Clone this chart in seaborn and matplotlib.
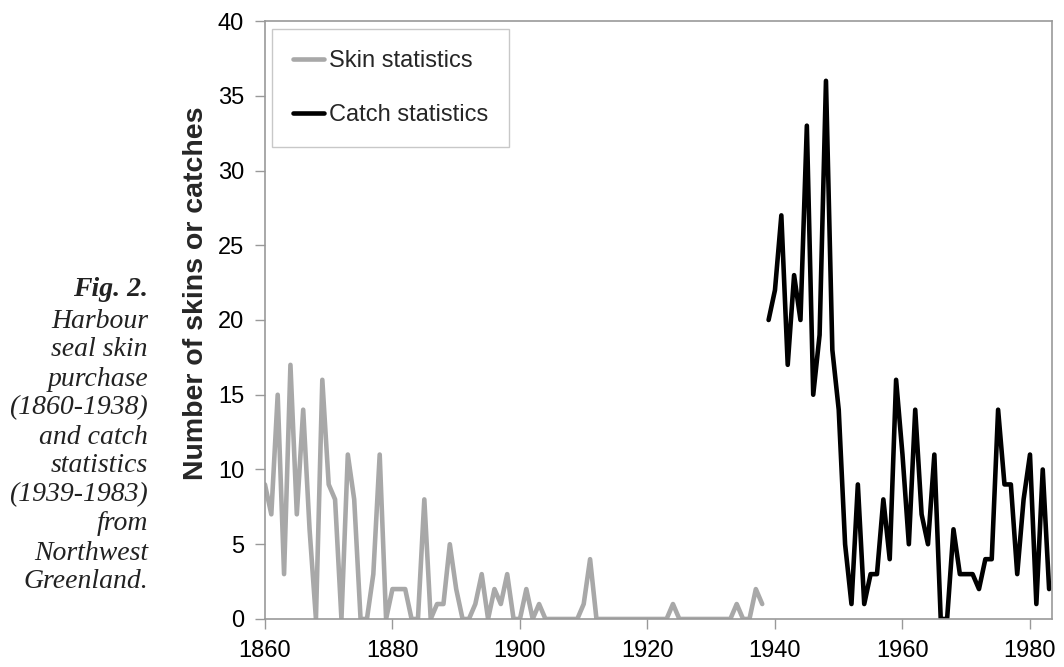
import pandas as pd
import matplotlib
matplotlib.use("Agg")
import matplotlib.pyplot as plt
import seaborn as sns

# harbour seal skins bought (1860-1938) and catches (1939-1983)
skin_years = list(range(1860, 1939))
skin_counts = [9, 7, 15, 3, 17, 7, 14, 6, 0, 16,
               9, 8, 0, 11, 8, 0, 0, 3, 11, 0,
               2, 2, 2, 0, 0, 8, 0, 1, 1, 5,
               2, 0, 0, 1, 3, 0, 2, 1, 3, 0,
               0, 2, 0, 1, 0, 0, 0, 0, 0, 0,
               1, 4, 0, 0, 0, 0, 0, 0, 0, 0,
               0, 0, 0, 0, 1, 0, 0, 0, 0, 0,
               0, 0, 0, 0, 1, 0, 0, 2, 1]
catch_years = list(range(1939, 1984))
catch_counts = [20, 22, 27, 17, 23, 20, 33, 15, 19, 36,
                18, 14, 5, 1, 9, 1, 3, 3, 8, 4,
                16, 11, 5, 14, 7, 5, 11, 0, 0, 6,
                3, 3, 3, 2, 4, 4, 14, 9, 9, 3,
                8, 11, 1, 10, 2]
series_names = ["Skin statistics", "Catch statistics"]
caption = ["Harbour", "seal skin", "purchase", "(1860-1938)", "and catch",
           "statistics", "(1939-1983)", "from", "Northwest", "Greenland."]

df = pd.concat([
    pd.DataFrame({"year": skin_years, "count": skin_counts, "series": series_names[0]}),
    pd.DataFrame({"year": catch_years, "count": catch_counts, "series": series_names[1]}),
])

sns.set_theme(style="white")
plt.rcParams["font.family"] = ["Liberation Sans", "DejaVu Sans"]

fig = plt.figure(figsize=(10.64, 6.67), dpi=100)
ax = fig.add_axes([0.249, 0.072, 0.740, 0.8965])

sns.lineplot(data=df, x="year", y="count", hue="series", hue_order=series_names,
             palette={"Skin statistics": "#a8a8a8", "Catch statistics": "black"},
             estimator=None, sort=False, linewidth=3.3, ax=ax)

ax.set_xlim(1860, 1983.5)
ax.set_ylim(0, 40)
ax.set_xticks(range(1860, 1981, 20))
ax.set_yticks(range(0, 41, 5))
ax.tick_params(axis="both", labelsize=17, colors="#999999", labelcolor="black",
               length=7, width=1, direction="out", left=True, bottom=True)
ax.tick_params(axis="x", pad=8)
ax.tick_params(axis="y", pad=8)
for s in ax.spines.values():
    s.set_color("#999999")
    s.set_linewidth(1.2)

ax.set_xlabel("")
ax.set_ylabel("Number of skins or catches", fontsize=20.5, fontweight="bold")
ax.yaxis.set_label_coords(-0.071, 0.545)

handles, labels = ax.get_legend_handles_labels()
leg = ax.legend(handles, labels, loc="upper left", bbox_to_anchor=(0.009, 0.987),
                fontsize=17, frameon=True, fancybox=False, framealpha=1,
                edgecolor="#c8c8c8", borderpad=0.9, labelspacing=1.35,
                handlelength=1.3, handletextpad=0.2, borderaxespad=0)
leg.get_frame().set_linewidth(1.0)

# caption on the left
fig.text(0.139, 1 - 290 / 667, "Fig. 2.", ha="right", va="center", fontsize=20,
         family="Liberation Serif", style="italic", fontweight="bold", color="#222222")
for i, line in enumerate(caption):
    fig.text(0.139, 1 - (321 + 29 * i) / 667, line, ha="right", va="center", fontsize=20,
             family="Liberation Serif", style="italic", color="#222222")

fig.savefig("out.png", dpi=100)
